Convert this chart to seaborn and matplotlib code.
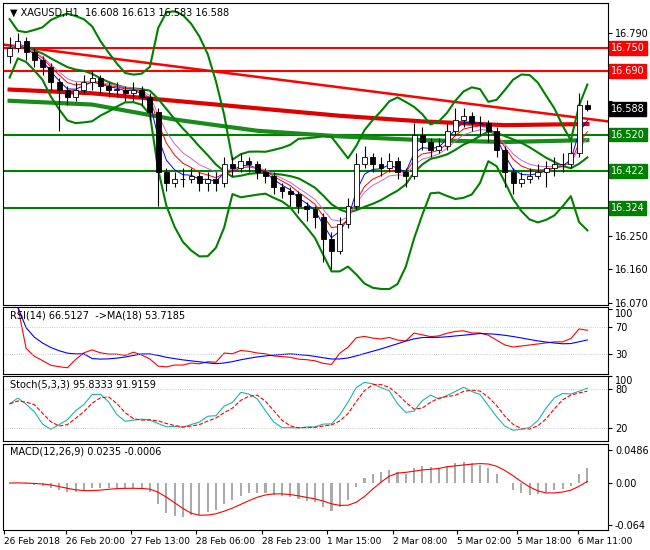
import numpy as np
import pandas as pd
import matplotlib
matplotlib.use("Agg")
import matplotlib.pyplot as plt
import seaborn as sns

# XAGUSD H1 (sampled every 2 bars)
closes = [16.75, 16.77, 16.74, 16.72, 16.70, 16.66, 16.64, 16.62, 16.64, 16.66,
          16.67, 16.65, 16.64, 16.64, 16.63, 16.64, 16.62, 16.58, 16.42, 16.39,
          16.40, 16.40, 16.41, 16.39, 16.40, 16.39, 16.44, 16.43, 16.45, 16.44,
          16.42, 16.41, 16.38, 16.37, 16.36, 16.33, 16.32, 16.30, 16.24, 16.21,
          16.28, 16.33, 16.44, 16.46, 16.44, 16.43, 16.45, 16.42, 16.41, 16.52,
          16.50, 16.48, 16.49, 16.53, 16.56, 16.57, 16.55, 16.55, 16.53, 16.48,
          16.42, 16.39, 16.40, 16.41, 16.42, 16.43, 16.44, 16.44, 16.47, 16.60, 16.588]
highs = [16.78, 16.79, 16.78, 16.75, 16.73, 16.71, 16.67, 16.65, 16.66, 16.68,
         16.69, 16.68, 16.66, 16.66, 16.65, 16.66, 16.65, 16.63, 16.59, 16.43,
         16.42, 16.43, 16.43, 16.42, 16.42, 16.42, 16.46, 16.46, 16.47, 16.46,
         16.45, 16.43, 16.42, 16.39, 16.38, 16.37, 16.34, 16.33, 16.31, 16.26,
         16.30, 16.35, 16.47, 16.49, 16.47, 16.46, 16.47, 16.46, 16.43, 16.55,
         16.54, 16.51, 16.51, 16.55, 16.59, 16.59, 16.58, 16.57, 16.56, 16.54,
         16.49, 16.43, 16.42, 16.43, 16.44, 16.45, 16.46, 16.47, 16.50, 16.63, 16.613]
lows = [16.71, 16.74, 16.72, 16.70, 16.68, 16.64, 16.53, 16.60, 16.61, 16.63,
        16.64, 16.63, 16.62, 16.62, 16.61, 16.61, 16.60, 16.56, 16.33, 16.37,
        16.38, 16.38, 16.39, 16.37, 16.37, 16.37, 16.38, 16.41, 16.42, 16.42,
        16.40, 16.39, 16.36, 16.35, 16.33, 16.31, 16.29, 16.27, 16.18, 16.16,
        16.20, 16.27, 16.32, 16.43, 16.42, 16.41, 16.42, 16.40, 16.38, 16.40,
        16.48, 16.46, 16.47, 16.48, 16.52, 16.54, 16.53, 16.52, 16.50, 16.46,
        16.38, 16.36, 16.38, 16.39, 16.40, 16.38, 16.41, 16.42, 16.43, 16.46, 16.583]

res_levels = [16.750, 16.690]
sup_levels = [16.520, 16.422, 16.324]
trend_ends = [16.76, 16.555]
# long moving averages (anchor bars / values)
ma_bars = [0, 10, 20, 30, 40, 50, 60, 70]
ma_red = [16.64, 16.63, 16.61, 16.59, 16.57, 16.555, 16.545, 16.548]
ma_green = [16.61, 16.60, 16.56, 16.53, 16.515, 16.505, 16.50, 16.505]

time_labels = ["26 Feb 2018", "26 Feb 20:00", "27 Feb 13:00", "28 Feb 06:00",
               "28 Feb 23:00", "1 Mar 15:00", "2 Mar 08:00", "5 Mar 02:00",
               "5 Mar 18:00", "6 Mar 11:00"]
label_bars = [-0.7, 6.8, 14.7, 22.6, 30.6, 38.5, 46.4, 54.2, 61.5, 68.9]

df = pd.DataFrame({"close": closes, "high": highs, "low": lows})
df["open"] = df["close"].shift(1).fillna(16.73)
df["bar"] = np.arange(len(df))
c = df["close"]
mid = c.rolling(10, min_periods=1).mean()
sd = c.rolling(10, min_periods=2).std().fillna(0.03)
df["bb_up"], df["bb_mid"], df["bb_dn"] = mid + 2.6 * sd, mid, mid - 2.6 * sd
df["ema5"] = c.ewm(span=3).mean()
df["ema8"] = c.ewm(span=5).mean()
df["ema13"] = c.ewm(span=7).mean()
d = c.diff()
g = d.clip(lower=0).ewm(alpha=1 / 14).mean()
l = (-d.clip(upper=0)).ewm(alpha=1 / 14).mean()
df["rsi"] = 100 - 100 / (1 + g / l.replace(0, 1e-9))
df["rsi_ma"] = df["rsi"].rolling(9, min_periods=1).mean()
hh = df["high"].rolling(5, min_periods=1).max()
ll = df["low"].rolling(5, min_periods=1).min()
k = (100 * (c - ll) / (hh - ll)).rolling(3, min_periods=1).mean()
df["stk"] = k
df["std"] = k.rolling(3, min_periods=1).mean()
macd = c.ewm(span=6).mean() - c.ewm(span=13).mean()
df["macd"] = macd
df["sig"] = macd.rolling(5, min_periods=1).mean()

W, H = 650, 550
fig = plt.figure(figsize=(6.5, 5.5), dpi=100)
fig.patch.set_facecolor("white")

def ax_px(y0, y1):
    return fig.add_axes([3 / W, 1 - y1 / H, 605 / W, (y1 - y0) / H])

xlim = (-0.8, 72.5)
ax = ax_px(3, 305)
ax1 = ax_px(307, 374)
ax2 = ax_px(376, 441)
ax3 = ax_px(444, 530)
for a in (ax, ax1, ax2, ax3):
    a.set_xlim(*xlim)
    a.yaxis.tick_right()
    a.tick_params(axis="y", labelsize=7, length=3, pad=2)
    a.set_xticks([])
    for s in a.spines.values():
        s.set_color("black")
        s.set_linewidth(0.8)

# main panel
ax.set_ylim(16.065, 16.871)
ax.set_yticks([16.79, 16.69, 16.61, 16.52, 16.43, 16.34, 16.25, 16.16, 16.07])
ax.set_yticklabels(["16.790", "", "", "", "", "", "16.250", "16.160", "16.070"])
for v in res_levels:
    ax.axhline(v, color="red", lw=1.5)
for v in sup_levels:
    ax.axhline(v, color="green", lw=1.5)
ax.plot([xlim[0], xlim[1]], trend_ends, color="red", lw=1.8)
sns.lineplot(x=ma_bars, y=ma_red, ax=ax, color="#e00000", lw=3)
sns.lineplot(x=ma_bars, y=ma_green, ax=ax, color="#1a8a1a", lw=3)
for col in ("bb_up", "bb_mid", "bb_dn"):
    sns.lineplot(data=df, x="bar", y=col, ax=ax, color="green", lw=1.5)
sns.lineplot(data=df, x="bar", y="ema5", ax=ax, color="blue", lw=0.7)
sns.lineplot(data=df, x="bar", y="ema8", ax=ax, color="red", lw=0.7)
sns.lineplot(data=df, x="bar", y="ema13", ax=ax, color="#cc66cc", lw=0.7)
for _, r in df.iterrows():
    ax.vlines(r["bar"], r["low"], r["high"], color="black", lw=0.8, zorder=4)
    lo, hi = sorted([r["open"], r["close"]])
    up = r["close"] >= r["open"]
    ax.bar(r["bar"], max(hi - lo, 0.002), bottom=lo, width=0.6,
           color="white" if up else "black", edgecolor="black", lw=0.6, zorder=5)
ax.set_xlabel("")
ax.set_ylabel("")

def tag(a, v, txt, col):
    a.annotate(txt, xy=(1.0, v), xycoords=("axes fraction", "data"), xytext=(2, 0),
               textcoords="offset points", va="center", ha="left", fontsize=7,
               color="white", bbox=dict(boxstyle="square,pad=0.2", fc=col, ec=col),
               annotation_clip=False)

for v in res_levels:
    tag(ax, v, f"{v:.3f}", "red")
for v in sup_levels:
    tag(ax, v, f"{v:.3f}", "green")
tag(ax, closes[-1], f"{closes[-1]:.3f}", "black")
ax.text(0.012, 0.985, "\u25bc XAGUSD,H1  16.608 16.613 16.583 16.588", transform=ax.transAxes,
        fontsize=7, va="top")

# RSI
sns.lineplot(data=df, x="bar", y="rsi", ax=ax1, color="red", lw=0.8)
sns.lineplot(data=df, x="bar", y="rsi_ma", ax=ax1, color="blue", lw=0.8)
ax1.set_ylim(0, 100)
ax1.set_yticks([97, 70, 30])
ax1.set_yticklabels(["100", "70", "30"])
ax1.get_yticklabels()[0].set_verticalalignment("top")
for v in (70, 30):
    ax1.axhline(v, color="#bbbbbb", lw=0.6, ls=":")
ax1.text(0.012, 0.95, "RSI(14) 66.5127  ->MA(18) 53.7185", transform=ax1.transAxes, fontsize=7, va="top")

# Stochastic
sns.lineplot(data=df, x="bar", y="stk", ax=ax2, color="#20b2aa", lw=0.8)
sns.lineplot(data=df, x="bar", y="std", ax=ax2, color="red", lw=0.8, ls="--")
ax2.set_ylim(0, 100)
ax2.set_yticks([100, 80, 20])
ax2.set_yticklabels(["100", "80", "20"])
ax2.get_yticklabels()[0].set_verticalalignment("top")
for v in (80, 20):
    ax2.axhline(v, color="#bbbbbb", lw=0.6, ls=":")
ax2.text(0.012, 0.95, "Stoch(5,3,3) 95.8333 91.9159", transform=ax2.transAxes, fontsize=7, va="top")

# MACD
ax3.bar(df["bar"], df["macd"], width=0.25, color="#aaaaaa")
sns.lineplot(data=df, x="bar", y="sig", ax=ax3, color="red", lw=0.8)
lim = max(df["macd"].abs().max(), 0.01) * 1.15
ax3.set_ylim(-lim * 1.2, lim)
ax3.set_yticks([lim * 0.85, 0, -lim * 1.08])
ax3.set_yticklabels(["0.0486", "0.00", "-0.064"])
ax3.text(0.012, 0.97, "MACD(12,26,9) 0.0235 -0.0006", transform=ax3.transAxes, fontsize=7, va="top")
ax3.set_xticks(label_bars)
ax3.set_xticklabels(time_labels, fontsize=6.5)
ax3.tick_params(axis="x", length=3, pad=2)
for lab in ax3.get_xticklabels():
    lab.set_horizontalalignment("left")

for a in (ax1, ax2, ax3):
    a.set_xlabel("")
    a.set_ylabel("")

fig.savefig("out.png", dpi=100, facecolor="white")
